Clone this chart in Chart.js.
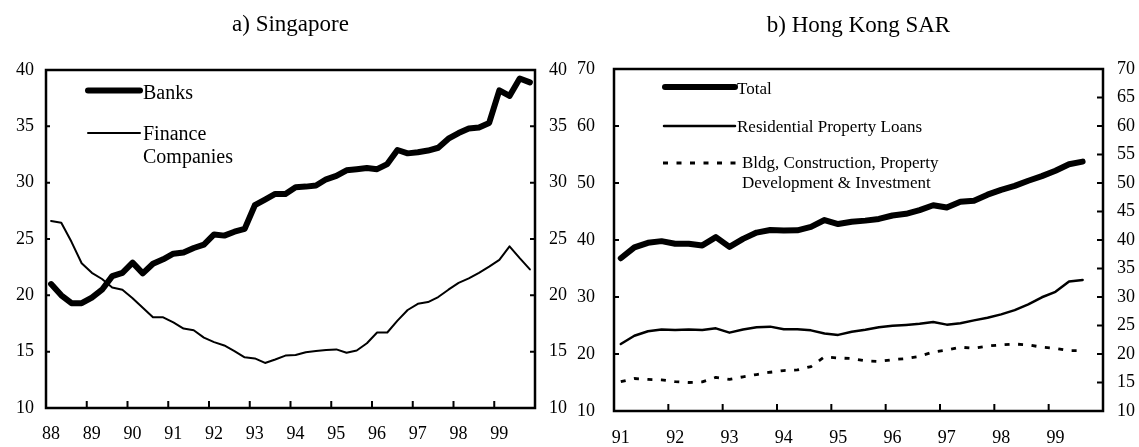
<!DOCTYPE html>
<html>
<head>
<meta charset="utf-8">
<script src="https://cdn.jsdelivr.net/npm/chart.js@4.4.1/dist/chart.umd.min.js"></script>
<style>
  html, body { margin: 0; padding: 0; background: #fff; }
  #wrap { position: relative; width: 1139px; height: 447px; overflow: hidden; background: #fff; }
  canvas { position: absolute; top: 0; }
  #sg { left: 0; }
  #hk { left: 572px; }
</style>
</head>
<body>
<div id="wrap">
  <canvas id="sg" width="572" height="447"></canvas>
  <canvas id="hk" width="567" height="447"></canvas>
</div>
<script>
// years shown on the two x axes (quarterly data)
const sgYears = ['88', '89', '90', '91', '92', '93', '94', '95', '96', '97', '98', '99'];
const hkYears = ['91', '92', '93', '94', '95', '96', '97', '98', '99'];

// a) Singapore, 1988Q1 - 1999Q4
const sgBanks = [
  21.0, 20.0, 19.3, 19.3, 19.8, 20.5, 21.7, 22.0, 22.9, 21.95,
  22.8, 23.2, 23.7, 23.8, 24.2, 24.5, 25.4, 25.3, 25.65, 25.9,
  28.0, 28.5, 29.0, 29.0, 29.6, 29.65, 29.75, 30.3, 30.6, 31.1,
  31.2, 31.3, 31.2, 31.65, 32.9, 32.6, 32.7, 32.85, 33.1, 33.9,
  34.4, 34.8, 34.9, 35.3, 38.2, 37.7, 39.25, 38.9
];
const sgFinance = [
  26.6, 26.45, 24.75, 22.85, 22.0, 21.45, 20.7, 20.5, 19.75, 18.9,
  18.05, 18.05, 17.6, 17.05, 16.9, 16.25, 15.85, 15.55, 15.05, 14.5,
  14.4, 14.0, 14.3, 14.65, 14.7, 14.95, 15.05, 15.15, 15.2, 14.9,
  15.1, 15.75, 16.7, 16.7, 17.75, 18.7, 19.25, 19.4, 19.85, 20.5,
  21.1, 21.5, 22.0, 22.55, 23.15, 24.35, 23.3, 22.3
];

// b) Hong Kong SAR, 1991Q1 - 1999Q3
const hkTotal = [
  36.8, 38.7, 39.5, 39.8, 39.35, 39.35, 39.05, 40.5, 38.8, 40.2,
  41.3, 41.75, 41.65, 41.7, 42.3, 43.5, 42.8, 43.2, 43.4, 43.7,
  44.3, 44.6, 45.25, 46.1, 45.7, 46.7, 46.9, 47.95, 48.8, 49.5,
  50.4, 51.2, 52.15, 53.3, 53.75
];
const hkResidential = [
  21.75, 23.2, 24.0, 24.3, 24.2, 24.3, 24.2, 24.5, 23.75, 24.3,
  24.7, 24.8, 24.35, 24.35, 24.15, 23.6, 23.35, 23.9, 24.25, 24.7,
  24.95, 25.1, 25.3, 25.6, 25.15, 25.4, 25.9, 26.35, 26.95, 27.7,
  28.7, 29.95, 30.9, 32.7, 33.0
];
const hkBldg = [
  15.15, 15.7, 15.55, 15.45, 15.15, 15.0, 15.1, 15.9, 15.55, 16.0,
  16.4, 16.8, 17.1, 17.2, 17.8, 19.5, 19.3, 19.2, 18.8, 18.7,
  19.0, 19.2, 19.6, 20.35, 20.7, 21.2, 21.0, 21.4, 21.6, 21.75,
  21.6, 21.2, 21.0, 20.6, 20.6
];

function quarters(years) {
  return years.flatMap(y => ['Q1', 'Q2', 'Q3', 'Q4'].map(q => y + ' ' + q));
}

Chart.defaults.font.family = '"Liberation Serif", "Times New Roman", serif';
Chart.defaults.font.size = 18;
Chart.defaults.color = '#000';

// frame, inward tick marks, title and in-plot legend
const panelDecor = {
  id: 'panelDecor',
  afterDraw(chart, args, opts) {
    const ctx = chart.ctx;
    const a = chart.chartArea;
    ctx.save();
    ctx.strokeStyle = '#000';
    ctx.lineWidth = 2.5;
    ctx.strokeRect(a.left, a.top, a.right - a.left, a.bottom - a.top);

    ctx.lineWidth = 2;
    ctx.beginPath();
    const x = chart.scales.x;
    const step = x.getPixelForValue(1) - x.getPixelForValue(0);
    for (let i = 4; i < x.ticks.length; i += 4) {
      const px = x.getPixelForValue(i) - step / 2;
      ctx.moveTo(px, a.bottom);
      ctx.lineTo(px, a.bottom - opts.xTick);
    }
    ['y', 'y2'].forEach(id => {
      const s = chart.scales[id];
      const len = opts[id + 'Tick'];
      s.ticks.forEach(t => {
        const py = s.getPixelForValue(t.value);
        if (py <= a.top + 1 || py >= a.bottom - 1) return;
        if (s.position === 'left') {
          ctx.moveTo(a.left, py); ctx.lineTo(a.left + len, py);
        } else {
          ctx.moveTo(a.right, py); ctx.lineTo(a.right - len, py);
        }
      });
    });
    ctx.stroke();

    ctx.fillStyle = '#000';
    ctx.font = '23px "Liberation Serif"';
    ctx.textAlign = 'center';
    ctx.textBaseline = 'alphabetic';
    ctx.fillText(opts.title, (a.left + a.right) / 2, opts.titleY);

    opts.legend.forEach(item => {
      const ds = chart.data.datasets[item.dataset];
      ctx.beginPath();
      ctx.lineWidth = ds.borderWidth;
      ctx.setLineDash(ds.borderDash || []);
      ctx.lineCap = ds.borderDash ? 'butt' : 'round';
      ctx.moveTo(item.x1, item.y);
      ctx.lineTo(item.x2, item.y);
      ctx.stroke();
      ctx.setLineDash([]);
      ctx.font = opts.legendFont;
      ctx.textAlign = 'left';
      item.lines.forEach((txt, k) => {
        ctx.fillText(txt, item.textX, item.baseY + k * opts.legendGap);
      });
    });
    ctx.restore();
  }
};

function line(label, data, width, dash) {
  const ds = {
    label, data,
    borderColor: '#000',
    borderWidth: width,
    pointRadius: 0,
    tension: 0,
    fill: false,
    borderJoinStyle: 'round',
    borderCapStyle: 'round',
    yAxisID: 'y'
  };
  if (dash) { ds.borderDash = dash; ds.borderCapStyle = 'butt'; }
  return ds;
}

function yAxis(pos, min, max, step, width, pad) {
  return {
    type: 'linear', position: pos, min, max,
    grid: { display: false, drawTicks: false },
    border: { display: false },
    ticks: { stepSize: step, padding: pad, autoSkip: false },
    afterFit: s => { s.width = width; }
  };
}

function xAxis(height, pad) {
  return {
    type: 'category', offset: true,
    grid: { display: false, drawTicks: false, offset: true },
    border: { display: false },
    ticks: {
      autoSkip: false, maxRotation: 0, minRotation: 0, padding: pad,
      callback(v, i) {
        return i % 4 === 0 ? this.getLabelForValue(v).split(' ')[0] : '';
      }
    },
    afterFit: s => { s.height = height; }
  };
}

new Chart(document.getElementById('sg'), {
  type: 'line',
  data: {
    labels: quarters(sgYears),
    datasets: [
      line('Banks', sgBanks, 6),
      line('Finance Companies', sgFinance, 2)
    ]
  },
  options: {
    responsive: false,
    animation: false,
    events: [],
    layout: { padding: { top: 70, left: 0, right: 0, bottom: 0 } },
    scales: {
      x: xAxis(39, 15),
      y: yAxis('left', 10, 40, 5, 46, 12),
      y2: yAxis('right', 10, 40, 5, 37, 14)
    },
    plugins: {
      legend: { display: false },
      tooltip: { enabled: false },
      panelDecor: {
        title: 'a) Singapore', titleY: 31,
        xTick: 7, yTick: 4, y2Tick: 5,
        legendFont: '20px "Liberation Serif"', legendGap: 23,
        legend: [
          { dataset: 0, x1: 88, x2: 140, y: 90.5, textX: 143, baseY: 99, lines: ['Banks'] },
          { dataset: 1, x1: 88, x2: 140, y: 133, textX: 143, baseY: 140, lines: ['Finance', 'Companies'] }
        ]
      }
    }
  },
  plugins: [panelDecor]
});

new Chart(document.getElementById('hk'), {
  type: 'line',
  data: {
    labels: quarters(hkYears),
    datasets: [
      line('Total', hkTotal, 6),
      line('Residential Property Loans', hkResidential, 2.5),
      line('Bldg, Construction, Property Development & Investment', hkBldg, 2.8, [5, 8.5])
    ]
  },
  options: {
    responsive: false,
    animation: false,
    events: [],
    layout: { padding: { top: 69, left: 0, right: 0, bottom: 0 } },
    scales: {
      x: xAxis(36, 16),
      y: yAxis('left', 10, 70, 10, 42, 19),
      y2: yAxis('right', 10, 70, 5, 36, 14)
    },
    plugins: {
      legend: { display: false },
      tooltip: { enabled: false },
      panelDecor: {
        title: 'b) Hong Kong SAR', titleY: 32,
        xTick: 7, yTick: 5, y2Tick: 6,
        legendFont: '17px "Liberation Serif"', legendGap: 20,
        legend: [
          { dataset: 0, x1: 93, x2: 163, y: 87, textX: 165, baseY: 94, lines: ['Total'] },
          { dataset: 1, x1: 92, x2: 163, y: 126, textX: 165, baseY: 132, lines: ['Residential Property Loans'] },
          { dataset: 2, x1: 91, x2: 168, y: 163, textX: 170, baseY: 168, lines: ['Bldg, Construction, Property', 'Development & Investment'] }
        ]
      }
    }
  },
  plugins: [panelDecor]
});
</script>
</body>
</html>
